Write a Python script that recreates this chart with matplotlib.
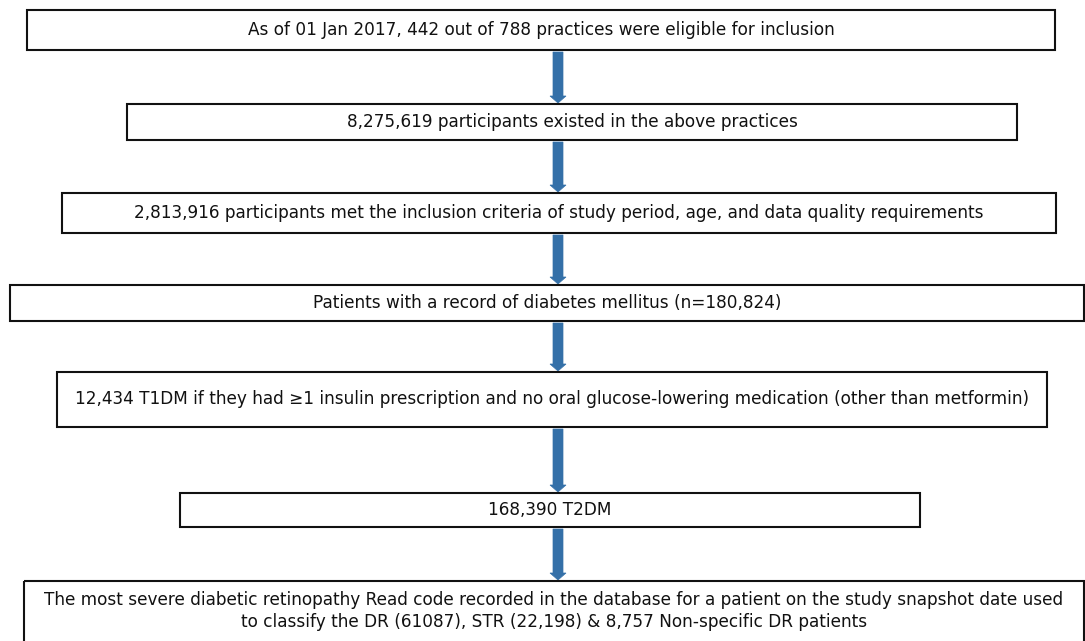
import matplotlib.pyplot as plt
from matplotlib.patches import Rectangle, FancyArrow

# flowchart text, top to bottom
steps = [
    "As of 01 Jan 2017, 442 out of 788 practices were eligible for inclusion",
    "8,275,619 participants existed in the above practices",
    "2,813,916 participants met the inclusion criteria of study period, age, and data quality requirements",
    "Patients with a record of diabetes mellitus (n=180,824)",
    "12,434 T1DM if they had \u22651 insulin prescription and no oral glucose-lowering medication (other than metformin)",
    "168,390 T2DM",
    "The most severe diabetic retinopathy Read code recorded in the database for a patient on the study snapshot date used\n"
    "to classify the DR (61087), STR (22,198) & 8,757 Non-specific DR patients",
]

# layout in pixel units (left, right, top, bottom)
lefts = [27, 127, 62, 10, 57, 180, 24]
rights = [1055, 1017, 1056, 1084, 1047, 920, 1084]
tops = [10, 104, 193, 285, 372, 493, 581]
bottoms = [50, 140, 233, 321, 427, 527, 650]

W, H = 1085, 641
fig = plt.figure(figsize=(W / 100, H / 100), dpi=100)
ax = fig.add_axes([0, 0, 1, 1])
ax.set_xlim(0, W)
ax.set_ylim(H, 0)
ax.axis("off")

arrow_x = 558
arrow_col = "#3470a8"

for i, txt in enumerate(steps):
    l, r, t, b = lefts[i], rights[i], tops[i], bottoms[i]
    ax.add_patch(Rectangle((l, t), r - l, b - t, fill=False, ec="#111111", lw=1.5))
    cy = (t + b) / 2 if i < len(steps) - 1 else t + 30
    ax.text((l + r) / 2, cy, txt, ha="center", va="center", fontsize=12.2,
            family=['DejaVu Sans'], linespacing=1.25, color="#111111")
    if i < len(steps) - 1:
        y0 = b + 2
        y1 = tops[i + 1] - 1
        ax.add_patch(FancyArrow(arrow_x, y0, 0, y1 - y0, width=10, head_width=16,
                                head_length=7, length_includes_head=True,
                                fc=arrow_col, ec=arrow_col, lw=0.5))

fig.savefig("out.png", dpi=100)
